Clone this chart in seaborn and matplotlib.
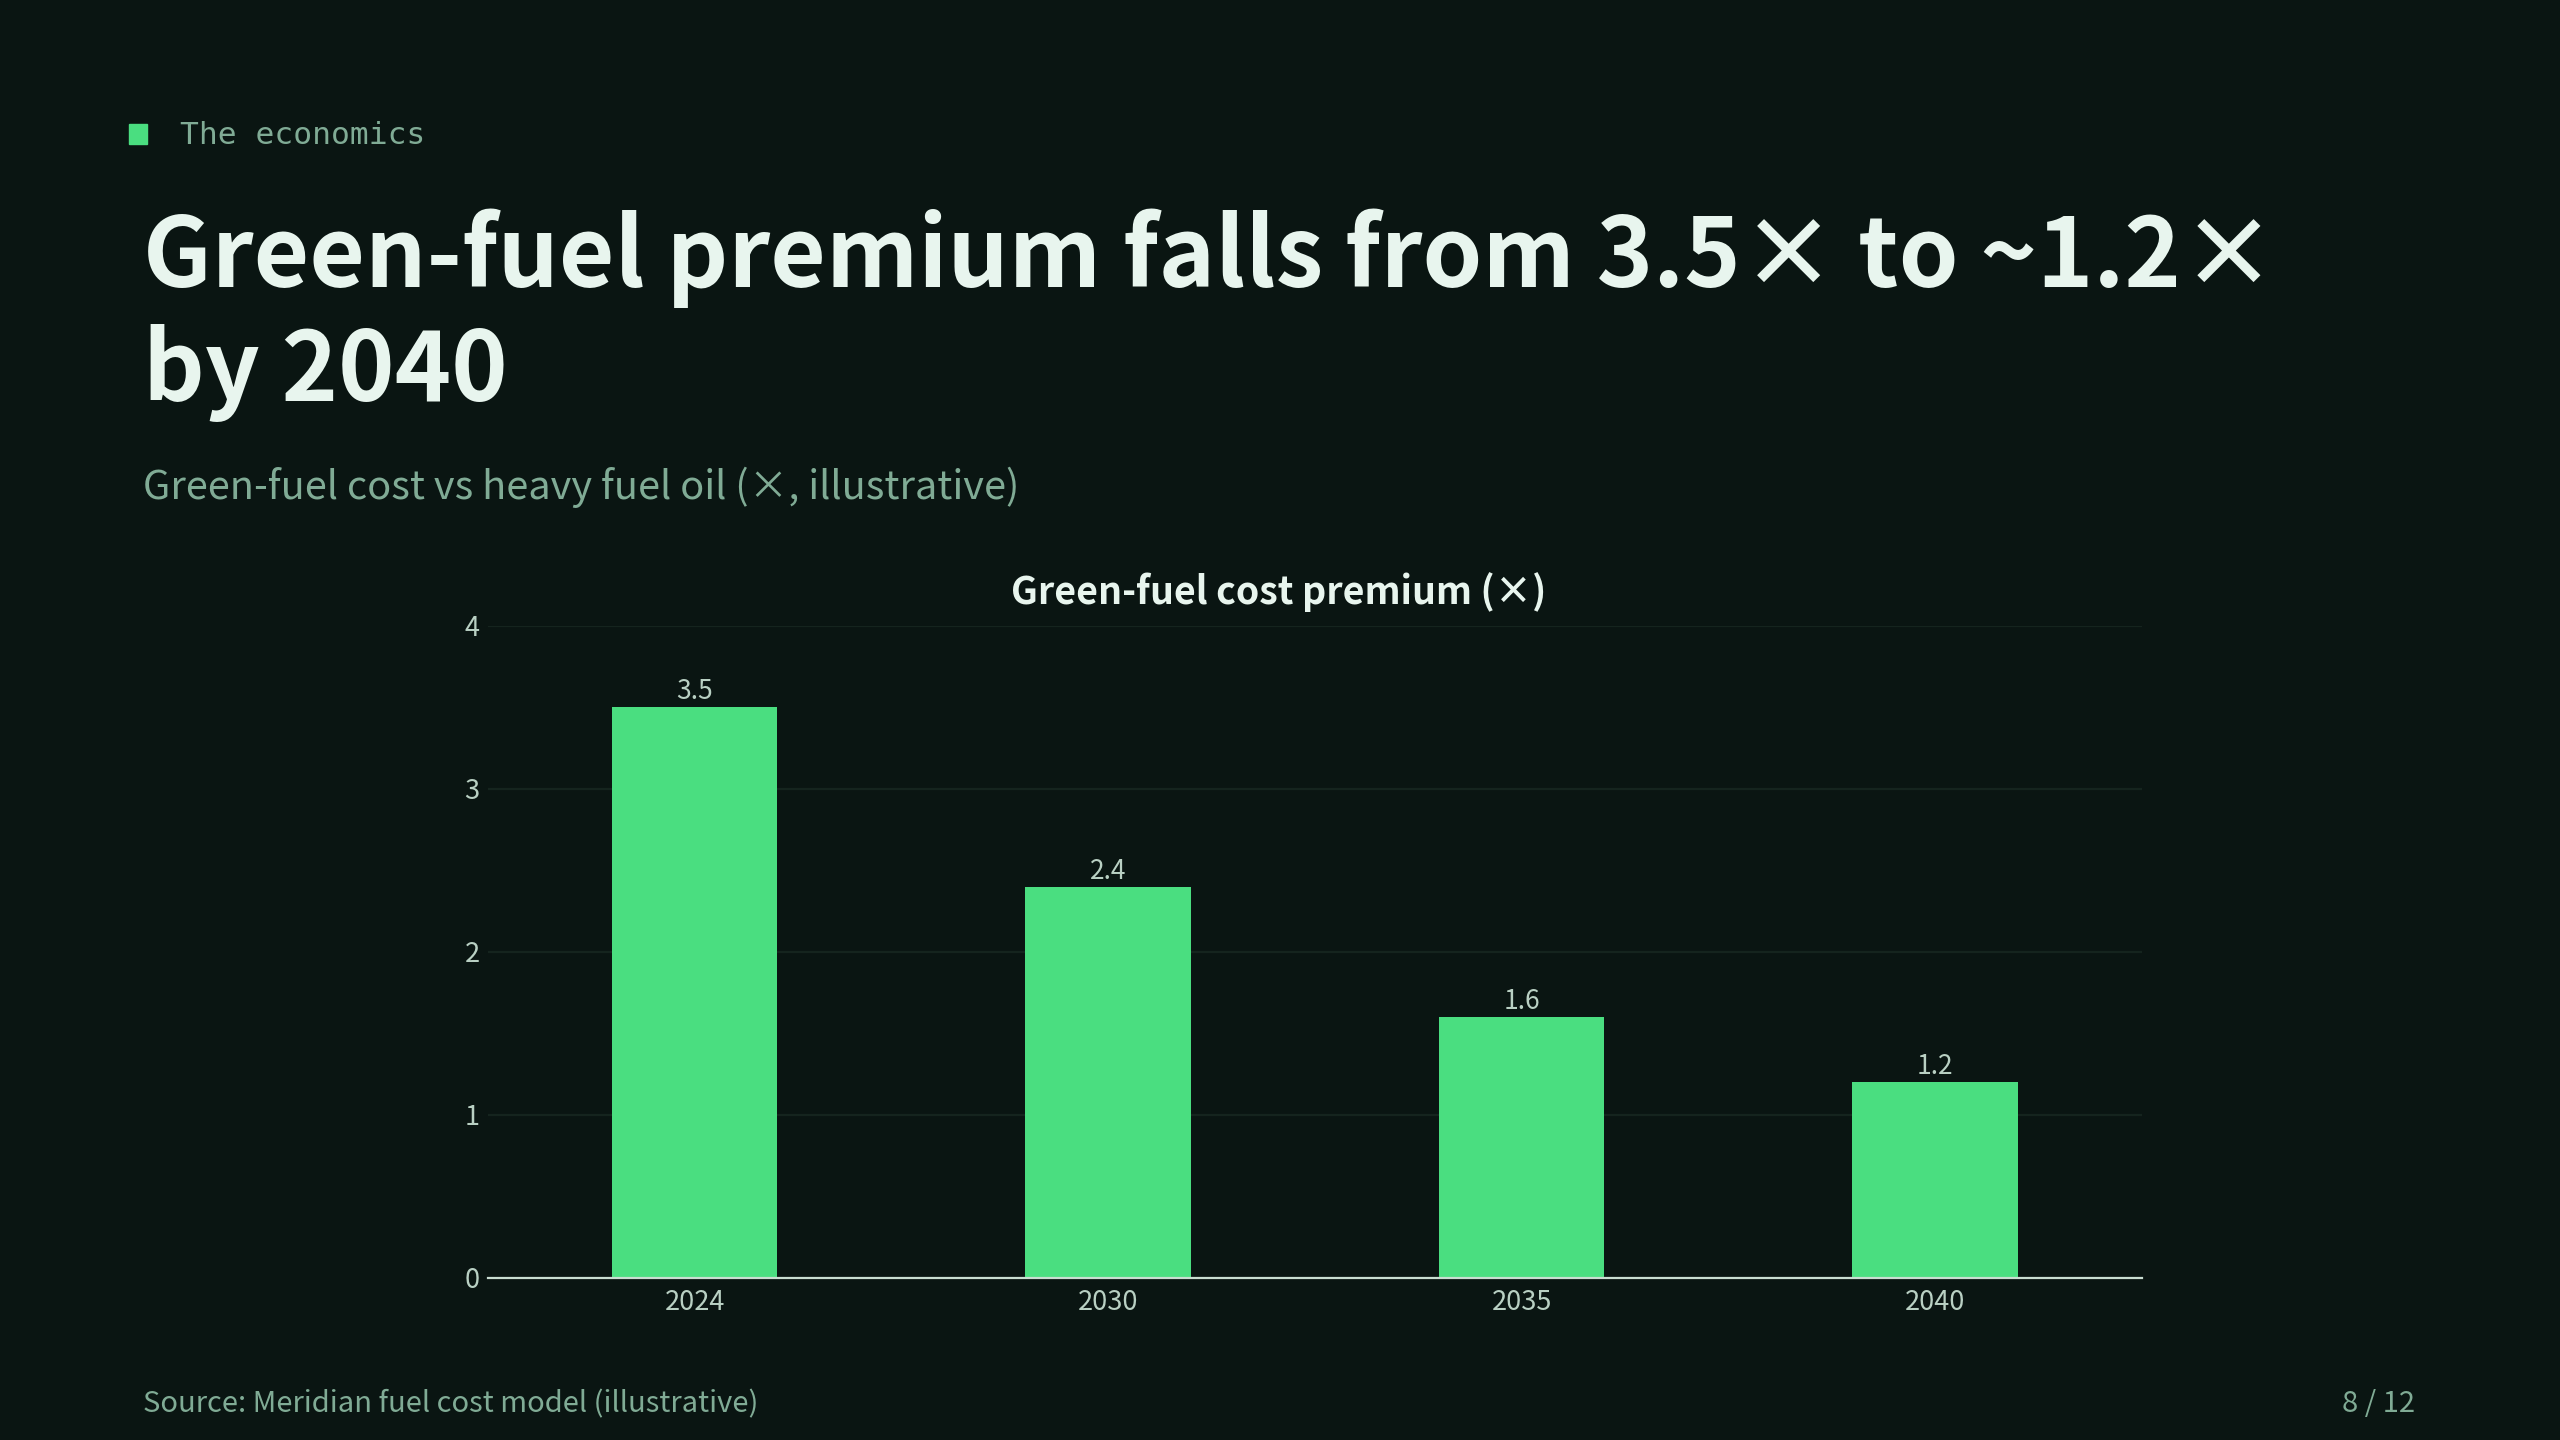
import pandas as pd
import matplotlib.pyplot as plt
import seaborn as sns

# Chart data
years = ["2024", "2030", "2035", "2040"]
premium = [3.5, 2.4, 1.6, 1.2]
y_ticks = [0, 1, 2, 3, 4]

# Palette
bg = "#0a1512"
bar_green = "#4ade80"
text_main = "#e8f5ee"
text_muted = "#80ab95"
tick_col = "#b9d0c3"
grid_col = "#15241e"

df = pd.DataFrame({"year": years, "premium": premium})

sns.set_theme(style="dark", rc={
    "figure.facecolor": bg,
    "axes.facecolor": bg,
    "savefig.facecolor": bg,
})
plt.rcParams["font.family"] = ["Noto Sans CJK SC", "DejaVu Sans"]

fig = plt.figure(figsize=(25.6, 14.4), dpi=100)
ax = fig.add_axes([0.1906, 0.1125, 0.6461, 0.4528])

sns.barplot(data=df, x="year", y="premium", color=bar_green, width=0.4,
            saturation=1, linewidth=0, ax=ax, zorder=3)

# value labels above bars
for i, v in enumerate(premium):
    ax.text(i, v + 0.05, f"{v:.1f}", ha="center", va="baseline",
            fontsize=19, color=tick_col)

ax.set_ylim(0, 4)
ax.set_xlim(-0.5, 3.5)
ax.set_yticks(y_ticks)
ax.set_yticklabels([str(t) for t in y_ticks])
ax.set_xlabel("")
ax.set_ylabel("")
ax.tick_params(axis="both", length=0, labelsize=19.5, colors=tick_col)
ax.tick_params(axis="y", pad=6)
ax.tick_params(axis="x", pad=8)

ax.grid(axis="y", color=grid_col, linewidth=1.6, zorder=0)
ax.grid(axis="x", visible=False)
for side in ["top", "right", "left"]:
    ax.spines[side].set_visible(False)
ax.spines["bottom"].set_color("#c9ddd1")
ax.spines["bottom"].set_linewidth(1.6)
ax.spines["bottom"].set_zorder(4)

ax.set_title("Green-fuel cost premium (×)", fontsize=27, fontweight="bold",
             color=text_main, pad=16)
ax.title.set_x(0.478)

# Header and footer
fig.patches.append(plt.Rectangle((129 / 2560, 1 - 144 / 1440), 18 / 2560, 20 / 1440,
                                 transform=fig.transFigure, color=bar_green))
fig.text(180 / 2560, 1 - 135 / 1440, "The economics", family="DejaVu Sans Mono",
         fontsize=22.5, color=text_muted, va="center", ha="left")
fig.text(143 / 2560, 1 - 287 / 1440, "Green-fuel premium falls from 3.5× to ~1.2×",
         fontsize=69, fontweight="bold", color=text_main, ha="left", va="baseline")
fig.text(143 / 2560, 1 - 401 / 1440, "by 2040",
         fontsize=69, fontweight="bold", color=text_main, ha="left", va="baseline")
fig.text(143 / 2560, 1 - 499 / 1440,
         "Green-fuel cost vs heavy fuel oil (×, illustrative)",
         fontsize=28.6, color=text_muted, ha="left", va="baseline")
fig.text(143 / 2560, 1 - 1412 / 1440, "Source: Meridian fuel cost model (illustrative)",
         fontsize=21, color=text_muted, ha="left", va="baseline")
fig.text(2415 / 2560, 1 - 1412 / 1440, "8 / 12",
         fontsize=21, color=text_muted, ha="right", va="baseline")

fig.savefig("out.png", dpi=100)
plt.close(fig)
